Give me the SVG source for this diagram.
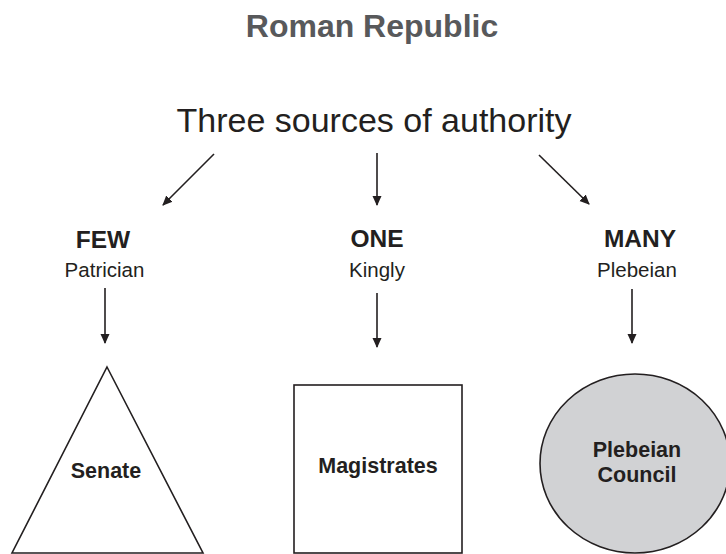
<svg xmlns="http://www.w3.org/2000/svg" width="726" height="554" viewBox="0 0 726 554">
<style>
text{font-family:"Liberation Sans",Arial,Helvetica,sans-serif;fill:#231f20;text-anchor:middle}
.title{font-size:32px;font-weight:bold;fill:#58595b}
.head{font-size:34px}
.cap{font-size:24.5px;font-weight:bold}
.sub{font-size:20.5px}
.lbl{font-size:21.5px;font-weight:bold}
.shape{fill:#fff;stroke:#231f20;stroke-width:1.6}
.conn{stroke:#231f20;stroke-width:1.6;fill:none;marker-end:url(#ah)}
</style>
<defs>
<marker id="ah" markerWidth="10" markerHeight="10" refX="9" refY="5" orient="auto" markerUnits="userSpaceOnUse">
<path d="M0,0.5 L10,5 L0,9.5 Z" fill="#231f20"/>
</marker>
</defs>
<rect width="726" height="554" fill="#fff"/>
<g id="title"><text class="title" x="372" y="37">Roman Republic</text></g>
<g id="heading"><text class="head" x="374" y="132">Three sources of authority</text></g>
<g id="few"><text class="cap" x="103" y="248">FEW</text><text class="sub" x="104.5" y="277">Patrician</text></g>
<g id="one"><text class="cap" x="377" y="247">ONE</text><text class="sub" x="377" y="277">Kingly</text></g>
<g id="many"><text class="cap" x="640" y="247">MANY</text><text class="sub" x="637" y="277">Plebeian</text></g>
<g id="senate"><polygon class="shape" points="107,367 203,553 12,553"/><text class="lbl" x="106" y="478">Senate</text></g>
<g id="magistrates"><rect class="shape" x="294" y="385" width="168" height="168"/><text class="lbl" x="378" y="473">Magistrates</text></g>
<g id="council"><ellipse class="shape" cx="635" cy="463.5" rx="95" ry="89.5" style="fill:#d1d2d4"/><text class="lbl" x="637" y="457">Plebeian</text><text class="lbl" x="637" y="482">Council</text></g>
<g id="connectors">
<line class="conn" x1="214" y1="154" x2="163" y2="205"/>
<line class="conn" x1="377" y1="153" x2="377" y2="205"/>
<line class="conn" x1="539" y1="155" x2="589" y2="204"/>
<line class="conn" x1="105" y1="288" x2="105" y2="343"/>
<line class="conn" x1="377" y1="293" x2="377" y2="347"/>
<line class="conn" x1="632" y1="289" x2="632" y2="343"/>
</g>
</svg>
